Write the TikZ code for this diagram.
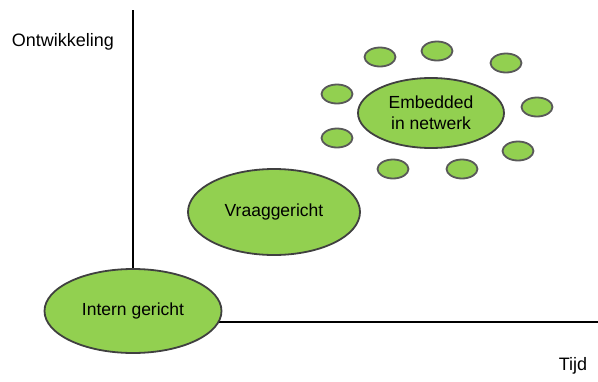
\documentclass[tikz,border=0pt]{standalone}
\usepackage{fontspec}
\setmainfont{Liberation Sans}
\usetikzlibrary{shapes.geometric}
\definecolor{leaf}{RGB}{146,208,80}
\definecolor{rim}{RGB}{64,64,64}
\definecolor{smallrim}{RGB}{89,89,89}

\begin{document}
\begin{tikzpicture}[x=1pt, y=-1pt,
    stage/.style={ellipse, draw=rim, line width=1.8pt, fill=leaf, inner sep=0pt, align=center, font=\fontsize{17.5}{21}\selectfont},
    bubble/.style={ellipse, draw=smallrim, line width=1.8pt, fill=leaf, minimum width=31pt, minimum height=19pt, inner sep=0pt}]

        \useasboundingbox (0,0) rectangle (598,381);

        % axes
        \coordinate (ytop) at (133,10);
        \coordinate (origin) at (133,322);
        \coordinate (xend) at (598,322);
        \draw[black, line width=1.3pt] (ytop) -- (origin) -- (xend);
        \node[font=\fontsize{18}{21}\selectfont] (ylabel) at (63,42) {Ontwikkeling};
        \node[font=\fontsize{18}{21}\selectfont] (xlabel) at (573,366) {Tijd};

        % stages
        \node[stage, minimum width=177pt, minimum height=84pt] (intern) at (133,311) {Intern gericht};
        \node[stage, minimum width=172pt, minimum height=86pt] (vraag) at (274,212) {Vraaggericht};
        \node[stage, minimum width=146pt, minimum height=70pt] (embedded) at (431,113) {Embedded\\in netwerk};

        % network around
        \node[bubble] (n1) at (380,57) {};
        \node[bubble] (n2) at (437,51) {};
        \node[bubble] (n3) at (506,63) {};
        \node[bubble] (n4) at (337,94) {};
        \node[bubble] (n5) at (537,107) {};
        \node[bubble] (n6) at (337,138) {};
        \node[bubble] (n7) at (518,151) {};
        \node[bubble] (n8) at (393,169) {};
        \node[bubble] (n9) at (462,169) {};

\end{tikzpicture}
\end{document}
